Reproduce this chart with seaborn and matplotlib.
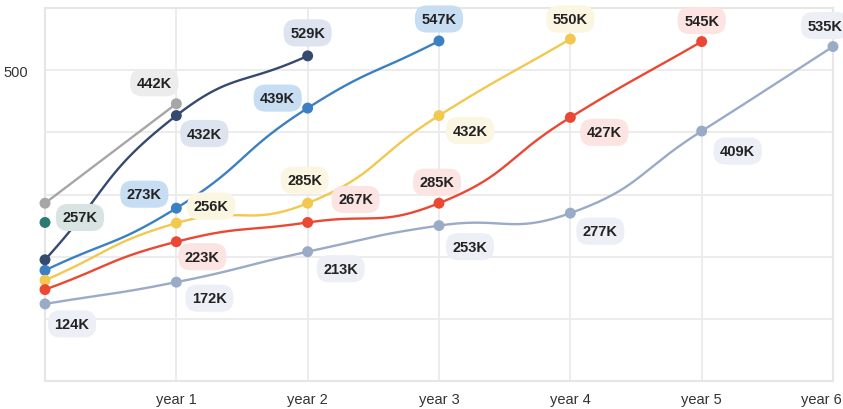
import numpy as np
import pandas as pd
import matplotlib
matplotlib.use("Agg")
import matplotlib.pyplot as plt
import matplotlib.transforms as mtransforms
import seaborn as sns

# categories on the x axis (first position has no label)
categories = ['', 'year 1', 'year 2', 'year 3', 'year 4', 'year 5', 'year 6']

# series values (in thousands)
gray_vals = [286, 446]
navy_vals = [195, 427, 523]
blue_vals = [178, 278, 439, 547]
yellow_vals = [162, 254, 286, 427, 550]
red_vals = [147, 224, 255, 286, 424, 546]
slate_vals = [124, 159, 208, 250, 270, 402, 538]
teal_vals = [255]

# point labels as printed on the chart
gray_labels = ['', '442K']
navy_labels = ['', '432K', '529K']
blue_labels = ['', '273K', '439K', '547K']
yellow_labels = ['', '256K', '285K', '432K', '550K']
red_labels = ['', '223K', '267K', '285K', '427K', '545K']
slate_labels = ['124K', '172K', '213K', '253K', '277K', '409K', '535K']
teal_labels = ['257K']

y_ticks = [0, 100, 200, 300, 400, 500, 600]
y_ticklabels = ['', '', '', '', '', '500', '']

# styling: colour, label box colour, label offsets in pixels (dx right, dy down)
series = [
    (gray_vals, gray_labels, '#a6a6a6', '#ececec', [None, (-22, -21)]),
    (navy_vals, navy_labels, '#364a70', '#dde3ef', [None, (28, 18), (0, -23)]),
    (blue_vals, blue_labels, '#3a80c2', '#c6ddf2', [None, (-32, -14), (-30, -10), (0, -22)]),
    (yellow_vals, yellow_labels, '#f2c84e', '#fbf6e1', [None, (35, -17), (-3, -23), (31, 15), (0, -20)]),
    (red_vals, red_labels, '#eb4834', '#fbe4e1', [None, (26, 15), (48, -23), (-2, -21), (34, 15), (0, -21)]),
    (slate_vals, slate_labels, '#9aabc8', '#eceff5', [(27, 20), (33, 16), (33, 17), (31, 21), (30, 18), (36, 20), (-8, -21)]),
    (teal_vals, teal_labels, '#2b7a72', '#d7e4e2', [(35, -5)]),
]

DPI = 100
W, H = 843, 410
L, R, T, B = 45, 833, 9, 382
XS = (R - L) / 6.0        # pixels per x step
YS = (B - T) / 600.0      # pixels per y unit


def smooth_curve(xs, ys, smooth=0.5, n=40):
    # bezier smoothing in pixel space, similar to echarts' smooth lines
    px = np.array(xs, float) * XS
    py = np.array(ys, float) * YS
    m = len(px)
    if m < 3:
        return list(xs), list(ys)
    cin, cout = [], []
    for i in range(m):
        pp = (px[max(i - 1, 0)], py[max(i - 1, 0)])
        nn = (px[min(i + 1, m - 1)], py[min(i + 1, m - 1)])
        vx, vy = (nn[0] - pp[0]) * smooth, (nn[1] - pp[1]) * smooth
        d0 = np.hypot(px[i] - pp[0], py[i] - pp[1])
        d1 = np.hypot(px[i] - nn[0], py[i] - nn[1])
        s = d0 + d1
        if s > 0:
            d0, d1 = d0 / s, d1 / s
        cin.append((px[i] - vx * d0, py[i] - vy * d0))
        cout.append((px[i] + vx * d1, py[i] + vy * d1))
    t = np.linspace(0, 1, n)
    cx, cy = [], []
    for i in range(m - 1):
        p0 = np.array([px[i], py[i]])
        p1 = np.array(cout[i])
        p2 = np.array(cin[i + 1])
        p3 = np.array([px[i + 1], py[i + 1]])
        pts = ((1 - t) ** 3)[:, None] * p0 + (3 * (1 - t) ** 2 * t)[:, None] * p1 \
            + (3 * (1 - t) * t ** 2)[:, None] * p2 + (t ** 3)[:, None] * p3
        cx.extend(pts[:, 0] / XS)
        cy.extend(pts[:, 1] / YS)
    return cx, cy


sns.set_theme(style='white')
plt.rcParams['font.family'] = ['Liberation Sans', 'DejaVu Sans']

fig = plt.figure(figsize=(W / DPI, H / DPI), dpi=DPI)
ax = fig.add_axes([L / W, 1 - B / H, (R - L) / W, (B - T) / H])

for vals, labels, color, boxc, offs in series:
    xs = list(range(len(vals)))
    cx, cy = smooth_curve(xs, vals)
    if len(vals) > 1:
        df = pd.DataFrame({'x': cx, 'y': cy})
        sns.lineplot(data=df, x='x', y='y', ax=ax, color=color, lw=1.7,
                     sort=False, estimator=None, zorder=3)
    sns.scatterplot(x=xs, y=vals, ax=ax, color=color, s=62,
                    edgecolor='none', linewidth=0, zorder=4)
    for i, (v, lab) in enumerate(zip(vals, labels)):
        if not lab:
            continue
        dx, dy = offs[i]
        ax.annotate(lab, (i, v), xytext=(dx * 72 / DPI, -dy * 72 / DPI),
                    textcoords='offset points', ha='center', va='center',
                    fontsize=10.5, fontweight='bold', color='#222222',
                    annotation_clip=False, zorder=5,
                    bbox=dict(boxstyle='round,pad=0.45,rounding_size=0.85',
                              fc=boxc, ec='none'))

for coll in ax.collections:
    coll.set_clip_on(False)

ax.set_xlim(0, 6)
ax.set_ylim(0, 600)
ax.set_xticks(range(len(categories)))
ax.set_xticklabels(categories)
ax.set_yticks(y_ticks)
ax.set_yticklabels(y_ticklabels)
ax.set_xlabel('')
ax.set_ylabel('')
ax.grid(True, color='#ebebeb', lw=1.3)
ax.set_axisbelow(True)
for sp in ax.spines.values():
    sp.set_color('#e6e6e6')
    sp.set_linewidth(1.5)
ax.tick_params(axis='both', length=0, labelsize=10.5, colors='#333333')
ax.tick_params(axis='x', pad=8)
ax.tick_params(axis='y', pad=12)

# keep the last x label inside the canvas, as in the reference
last = ax.get_xticklabels()[-1]
last.set_transform(last.get_transform() +
                   mtransforms.ScaledTranslation(-12 / DPI, 0, fig.dpi_scale_trans))

fig.savefig('out.png', dpi=DPI)
